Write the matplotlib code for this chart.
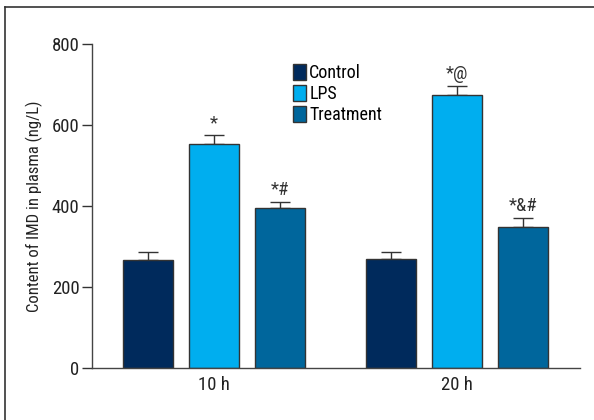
import numpy as np
from matplotlib import pyplot as plt
from matplotlib.lines import Line2D

plt.rcParams['font.family'] = ['Roboto Condensed', 'Roboto', 'DejaVu Sans']

groups = ['10 h', '20 h']
series = ['Control', 'LPS', 'Treatment']
colors = ['#002a5c', '#00aeef', '#00669c']
means = [[266, 268],
         [553, 675],
         [395, 347]]
errors = [[20, 18],
          [22, 22],
          [16, 24]]
marks = [['', ''],
         ['*', '*@'],
         ['*#', '*&#']]

fig = plt.figure(figsize=(5.94, 4.20), dpi=100)
ax = fig.add_axes([92/594, 1 - 368/420, (580 - 92)/594, (368 - 44)/420])

x = np.arange(len(groups))
width = 0.206
offset = 0.272
for i, name in enumerate(series):
    pos = x + (i - 1) * offset
    ax.bar(pos, means[i], width, color=colors[i], edgecolor='#333333',
           linewidth=1.0, label=name, zorder=2)
    ax.errorbar(pos, means[i], yerr=[np.zeros(len(groups)), errors[i]],
                fmt='none', ecolor='#333333', elinewidth=1.0, capsize=7,
                capthick=1.0, zorder=1)
    for j, p in enumerate(pos):
        if marks[i][j]:
            ax.text(p, means[i][j] + errors[i][j] + 7, marks[i][j],
                    ha='center', va='bottom', fontsize=13.5, color='#333333')

ax.set_xlim(-0.502, 1.506)
ax.set_ylim(0, 800)
ax.set_yticks([0, 200, 400, 600, 800])
ax.set_xticks(x)
ax.set_xticklabels(groups)
ax.tick_params(axis='y', length=7, width=1, color='#333333', labelsize=13.5,
               labelcolor='#222222', pad=2)
ax.tick_params(axis='x', length=0, labelsize=13.5, labelcolor='#222222', pad=6)
ax.set_ylabel('Content of IMD in plasma (ng/L)', fontsize=12,
              color='#222222', labelpad=6)
for s in ['top', 'right']:
    ax.spines[s].set_visible(False)
for s in ['left', 'bottom']:
    ax.spines[s].set_color('#444444')
    ax.spines[s].set_linewidth(1.0)

ax.legend(loc='upper left', bbox_to_anchor=((284 - 92)/488, 1 - (55 - 44)/324),
          frameon=False, fontsize=13, handlelength=0.7, handleheight=1.0,
          handletextpad=0.2, labelspacing=0.15, borderpad=0)

# image frame (left and top edges only)
fig.add_artist(Line2D([5/594, 5/594], [0, 1 - 7/420], transform=fig.transFigure,
                      color='#333333', linewidth=1.2))
fig.add_artist(Line2D([5/594, 1], [1 - 7/420, 1 - 7/420], transform=fig.transFigure,
                      color='#333333', linewidth=1.2))

fig.savefig('out.png', dpi=100)
